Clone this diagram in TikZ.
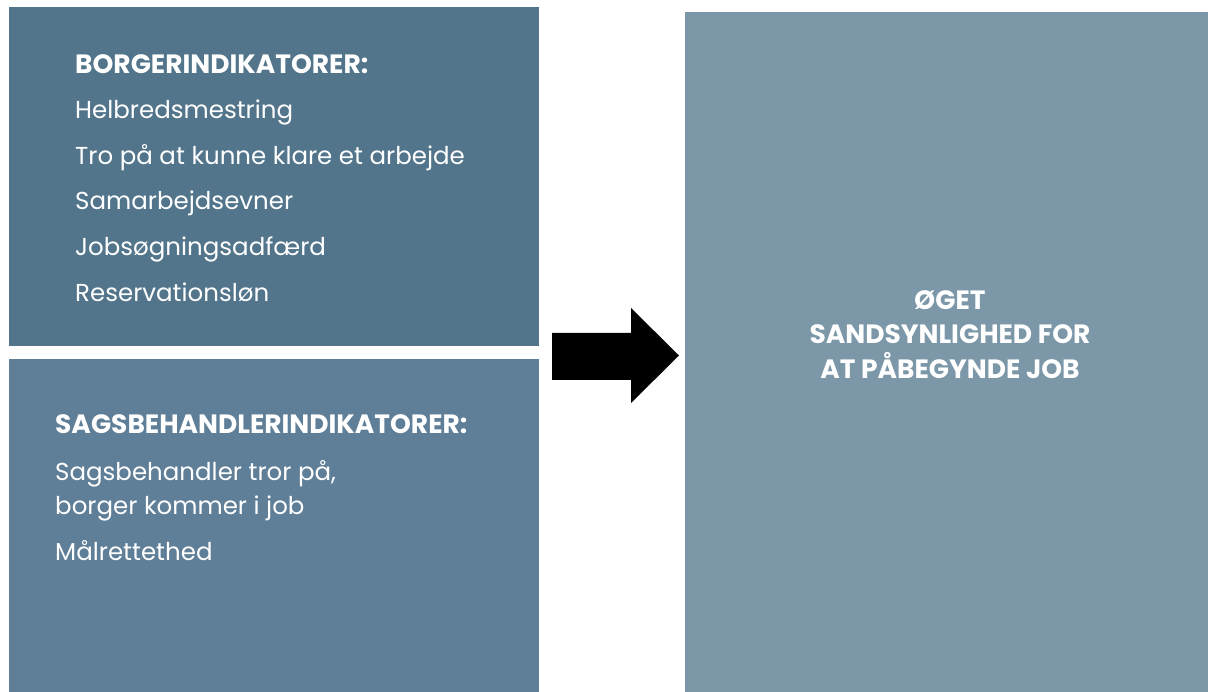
\documentclass[tikz,border=0pt]{standalone}
\usepackage{fontspec}
\setmainfont{Poppins}
\definecolor{boxA}{HTML}{52758C}
\definecolor{boxB}{HTML}{5F7E97}
\definecolor{boxC}{HTML}{7B97A8}
\begin{document}
\begin{tikzpicture}[x=1pt,y=-1pt,
  panel/.style={draw=none,inner sep=0pt,minimum width=0pt},
  txt/.style={anchor=base west,inner sep=0pt,text=white,font=\fontsize{24.5}{28}\selectfont},
  head/.style={txt,font=\fontsize{26.5}{30}\selectfont\bfseries},
  goal/.style={anchor=base,inner sep=0pt,text=white,font=\fontsize{26.5}{30}\selectfont\bfseries}]
\useasboundingbox (0,0) rectangle (1208,692);
\fill[boxA] (9,7) rectangle (539,346);
\fill[boxB] (9,359) rectangle (539,692);
\fill[boxC] (685,12) rectangle (1208,692);
\node[panel] (left) at (274,350) {};
\node[panel] (right) at (685,355) {};
\fill[black] (552,333) -- (631,333) -- (631,308) -- (679,355.5) -- (631,403) -- (631,380) -- (552,380) -- cycle;
\node[head] (h1) at (75,74) {BORGERINDIKATORER:};
\node[txt] (a1) at (75,119) {Helbredsmestring};
\node[txt] (a2) at (75,164.5) {Tro på at kunne klare et arbejde};
\node[txt] (a3) at (75,210) {Samarbejdsevner};
\node[txt] (a4) at (75,256) {Jobsøgningsadfærd};
\node[txt] (a5) at (75,302) {Reservationsløn};
\node[head] (h2) at (55,434) {SAGSBEHANDLERINDIKATORER:};
\node[txt] (b1) at (55,480) {Sagsbehandler tror på,};
\node[txt] (b2) at (55,514.5) {borger kommer i job};
\node[txt] (b3) at (55,560) {Målrettethed};
\node[goal] (g1) at (950,309.5) {ØGET};
\node[goal] (g2) at (950,344) {SANDSYNLIGHED FOR};
\node[goal] (g3) at (950,379) {AT PÅBEGYNDE JOB};
\end{tikzpicture}
\end{document}
